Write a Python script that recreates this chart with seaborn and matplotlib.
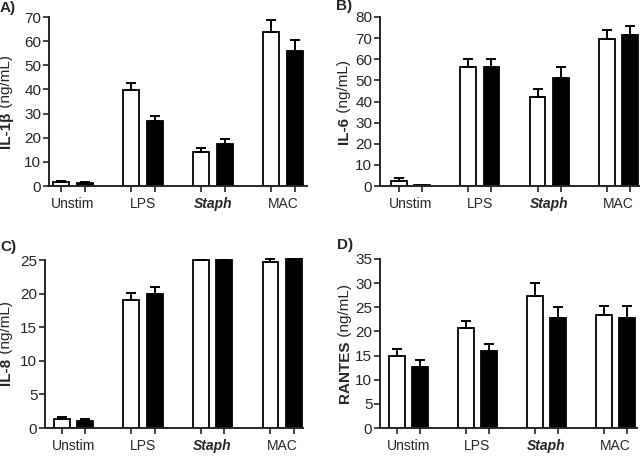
import numpy as np
import pandas as pd
import matplotlib
matplotlib.use("Agg")
import matplotlib.pyplot as plt
import seaborn as sns

# stimulation conditions (x categories) and the two groups (open / filled bars)
stims = ["Unstim", "LPS", "Staph", "MAC"]
groups = ["Open", "Filled"]

# A) IL-1beta
il1b_open = [1.6, 39.7, 14.0, 63.8]
il1b_filled = [1.3, 27.0, 17.6, 55.9]
il1b_open_err = [0.6, 3.1, 1.6, 4.8]
il1b_filled_err = [0.3, 2.2, 2.0, 4.4]

# B) IL-6
il6_open = [2.5, 56.4, 41.9, 69.6]
il6_filled = [0.4, 56.4, 51.3, 71.7]
il6_open_err = [1.1, 3.9, 3.9, 4.3]
il6_filled_err = [0.1, 3.9, 4.9, 4.0]

# C) IL-8
il8_open = [1.3, 19.1, 24.95, 24.75]
il8_filled = [1.0, 20.0, 25.0, 25.25]
il8_open_err = [0.4, 1.0, 0.1, 0.45]
il8_filled_err = [0.3, 1.0, 0.05, 0.0]

# D) RANTES
rantes_open = [15.0, 20.7, 27.4, 23.3]
rantes_filled = [12.6, 16.0, 22.8, 22.8]
rantes_open_err = [1.4, 1.5, 2.6, 1.9]
rantes_filled_err = [1.5, 1.5, 2.3, 2.4]

sns.set_style("ticks")
plt.rcParams["font.family"] = ["Liberation Sans", "DejaVu Sans"]
plt.rcParams["font.size"] = 10

W, H = 640, 457
fig = plt.figure(figsize=(6.4, 4.57), dpi=100)


def px_axes(left, right, top, bottom):
    return fig.add_axes([left / W, 1 - bottom / H, (right - left) / W, (bottom - top) / H])


def panel(ax, open_vals, filled_vals, open_err, filled_err, ymax, ystep, xlim, ytop=None):
    df = pd.DataFrame({
        "stim": stims * 2,
        "group": [groups[0]] * 4 + [groups[1]] * 4,
        "value": list(open_vals) + list(filled_vals),
    })
    sns.barplot(data=df, x="stim", y="value", hue="group", order=stims, hue_order=groups,
                palette={"Open": "white", "Filled": "black"}, edgecolor="black",
                linewidth=1.3, width=0.67, gap=0.32, errorbar=None, legend=False, ax=ax)

    bars = sorted(ax.patches, key=lambda p: p.get_x())
    xs = [p.get_x() + p.get_width() / 2 for p in bars]
    hs = [p.get_height() for p in bars]
    errs = []
    for a, b in zip(open_err, filled_err):
        errs += [a, b]
    ax.errorbar(xs, hs, yerr=[np.zeros(len(errs)), errs], fmt="none", ecolor="black",
                elinewidth=1.4, capsize=3.5, capthick=1.4, zorder=1)

    ax.set_xlim(*xlim)
    ax.set_ylim(0, ytop if ytop else ymax)
    ax.set_yticks(np.arange(0, ymax + 0.1, ystep))
    ax.spines["left"].set_bounds(0, ymax)
    sns.despine(ax=ax)
    for s in ["left", "bottom"]:
        ax.spines[s].set_linewidth(1.4)

    ax.set_xticks(xs, labels=[""] * len(xs))
    ax.set_xticks(range(len(stims)), labels=stims, minor=True)
    ax.tick_params(axis="x", which="major", length=4, width=1.2)
    ax.tick_params(axis="x", which="minor", length=0, pad=8, labelsize=10)
    ax.tick_params(axis="y", length=4, width=1.2, pad=1.5, labelsize=11)
    for t in ax.get_xticklabels(minor=True):
        if t.get_text() == "Staph":
            t.set_fontweight("bold")
            t.set_fontstyle("italic")
    ax.set_xlabel("")
    ax.set_ylabel("")


def ylabel(ax, bold, rest, x_px):
    pos = ax.get_position()
    yc = (pos.y0 + pos.y1) / 2
    x = x_px / W
    t1 = fig.text(x, yc, bold, rotation=90, rotation_mode="anchor", ha="right",
                  va="baseline", fontweight="bold", fontsize=11)
    t2 = fig.text(x, yc, rest, rotation=90, rotation_mode="anchor", ha="left",
                  va="baseline", fontsize=11)
    r = fig.canvas.get_renderer()
    h1 = t1.get_window_extent(r).height / H
    h2 = t2.get_window_extent(r).height / H
    p = yc + (h1 - h2) / 2
    t1.set_position((x, p))
    t2.set_position((x, p))


axA = px_axes(49, 307, 17, 186)
axB = px_axes(380, 640, 17, 186)
axC = px_axes(45, 303, 258, 428)
axD = px_axes(380, 637, 259, 428)

panel(axA, il1b_open, il1b_filled, il1b_open_err, il1b_filled_err, 70, 10, (-0.34, 3.34))
panel(axB, il6_open, il6_filled, il6_open_err, il6_filled_err, 80, 10, (-0.44, 3.31))
panel(axC, il8_open, il8_filled, il8_open_err, il8_filled_err, 25, 5, (-0.41, 3.30), ytop=25.3)
panel(axD, rantes_open, rantes_filled, rantes_open_err, rantes_filled_err, 35, 5, (-0.41, 3.31))

fig.canvas.draw()
ylabel(axA, "IL-1β", " (ng/mL)", 10)
ylabel(axB, "IL-6", " (ng/mL)", 348)
ylabel(axC, "IL-8", " (ng/mL)", 10)
ylabel(axD, "RANTES", " (ng/mL)", 349)

for lab, x, y in [("A)", 0, 12), ("B)", 336, 10), ("C)", 0, 251), ("D)", 337, 249)]:
    fig.text(x / W, 1 - y / H, lab, fontweight="bold", fontsize=11, va="baseline")

fig.savefig("out.png", dpi=100)
